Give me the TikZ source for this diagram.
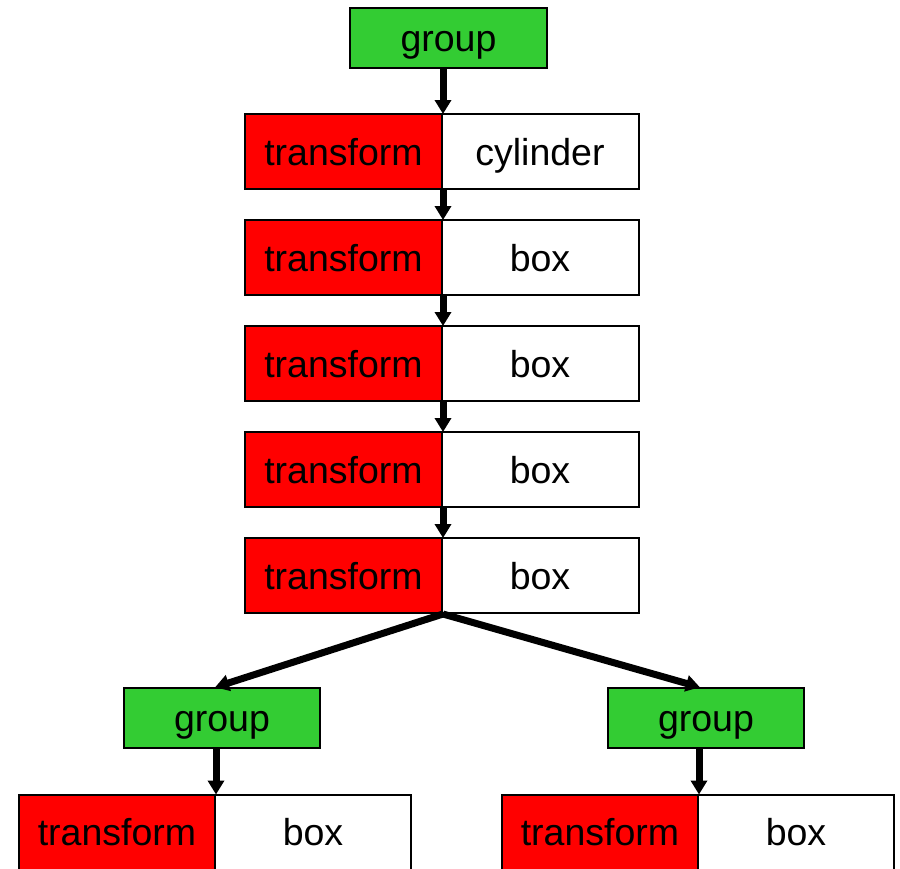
\documentclass[tikz,border=0pt]{standalone}
\usepackage{fontspec}
\setmainfont{Liberation Sans}
\usetikzlibrary{arrows.meta}
\definecolor{grp}{RGB}{51,204,51}
\definecolor{trf}{RGB}{255,0,0}
\tikzset{
  cell/.style={draw=black, line width=2pt, minimum width=197pt, minimum height=75pt, inner sep=0pt,
    font=\fontsize{37.5}{40}\selectfont, text=black, text height=27pt, text depth=0pt},
  trcell/.style={cell, fill=trf},
  objcell/.style={cell, fill=white},
  grpcell/.style={cell, fill=grp, minimum height=60pt},
  link/.style={line width=7pt, -{Triangle[width=16pt,length=14pt]}, shorten >=-1pt}
}
\begin{document}
\begin{tikzpicture}[x=1pt,y=-1pt]
\useasboundingbox (0,0) rectangle (900,868);
\node[grpcell] (g0) at (448.5,38) {group};
\foreach \i in {1,...,5} {
  \pgfmathsetmacro{\yy}{151.5+106*(\i-1)}
  \node[trcell] (t\i) at (343.5,\yy) {transform};
}
\node[objcell] (o1) at (540,151.5) {cylinder};
\node[objcell] (o2) at (540,257.5) {box};
\node[objcell] (o3) at (540,363.5) {box};
\node[objcell] (o4) at (540,469.5) {box};
\node[objcell] (o5) at (540,575.5) {box};
\node[grpcell, minimum width=196pt] (gl) at (222,718) {group};
\node[grpcell, minimum width=196pt] (gr) at (706,718) {group};
\node[trcell, minimum width=196pt] (tl) at (117,832) {transform};
\node[objcell, minimum width=196pt] (ol) at (313,832) {box};
\node[trcell, minimum width=196pt] (tr) at (600,832) {transform};
\node[objcell, minimum width=196pt] (or) at (796,832) {box};
\draw[link] (t1.north east |- g0.south) -- (t1.north east);
\draw[link] (t1.south east) -- (t2.north east);
\draw[link] (t2.south east) -- (t3.north east);
\draw[link] (t3.south east) -- (t4.north east);
\draw[link] (t4.south east) -- (t5.north east);
\draw[link] (t5.south east) -- (tl.north east |- gl.north);
\draw[link] (t5.south east) -- (tr.north east |- gr.north);
\draw[link] (tl.north east |- gl.south) -- (tl.north east);
\draw[link] (tr.north east |- gr.south) -- (tr.north east);
\end{tikzpicture}
\end{document}
